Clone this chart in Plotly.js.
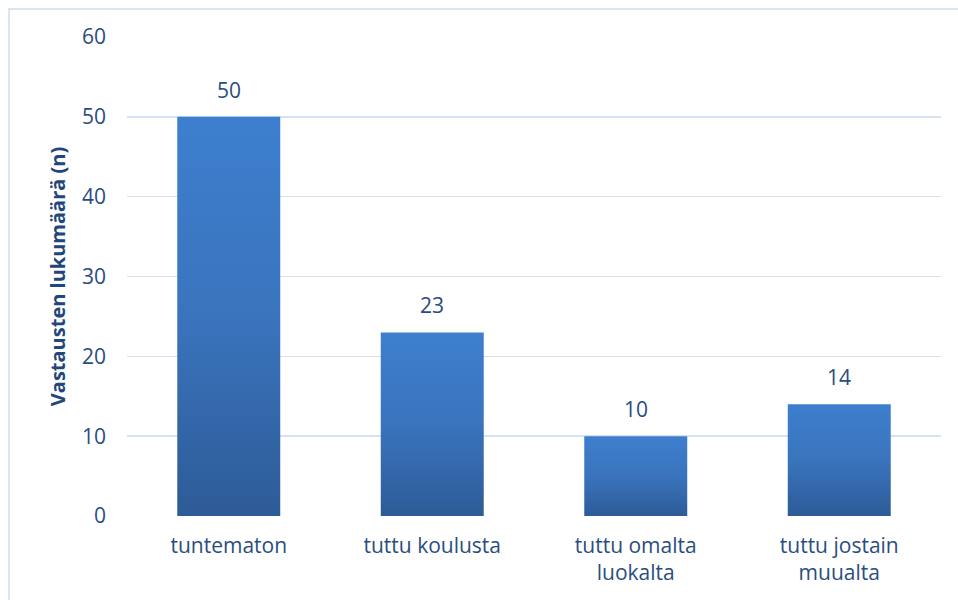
<!DOCTYPE html>
<html>
<head>
<meta charset="utf-8">
<script src="https://cdn.plot.ly/plotly-3.0.1.min.js"></script>
<style>
  html, body { margin: 0; padding: 0; background: #fff; overflow: hidden; }
  #wrap { position: relative; width: 958px; height: 600px; }
  #frame { position: absolute; left: 8px; top: 8px; width: 980px; height: 620px; border: 2px solid #dbe5f2; box-sizing: border-box; pointer-events: none; }
  #chart { position: absolute; left: 0; top: 0; width: 958px; height: 600px; }
</style>
</head>
<body>
<div id="wrap">
  <div id="chart"></div>
  <div id="frame"></div>
</div>
<script>
const categories = ["tuntematon", "tuttu koulusta", "tuttu omalta<br>luokalta", "tuttu jostain<br>muualta"];
const counts = [50, 23, 10, 14];
const yTickValues = [0, 10, 20, 30, 40, 50, 60];
const yTitle = "Vastausten lukumäärä (n)";

const textColor = "#2a4d7f";
const fontFamily = "Open Sans, Noto Sans, sans-serif";
const fs = 21;

const trace = {
  type: "bar",
  x: categories,
  y: counts,
  marker: { color: "#3670bd", line: { width: 0 } },
  hoverinfo: "none"
};

const annotations = categories.map((c, i) => ({
  x: c, y: counts[i], xref: "x", yref: "y",
  text: String(counts[i]), showarrow: false,
  yanchor: "bottom", yshift: 11,
  font: { family: fontFamily, size: fs, color: textColor }
}));

const layout = {
  width: 958, height: 600,
  margin: { l: 127, r: 17, t: 37, b: 84 },
  paper_bgcolor: "#ffffff", plot_bgcolor: "#ffffff",
  bargap: 0.494,
  showlegend: false,
  font: { family: fontFamily, size: fs, color: textColor },
  xaxis: {
    type: "category",
    showgrid: false, zeroline: false, showline: false,
    ticks: "", ticklabelstandoff: 15,
    tickfont: { family: fontFamily, size: fs, color: textColor }
  },
  yaxis: {
    range: [0, 60],
    tickvals: yTickValues,
    showgrid: true, gridcolor: "#d6e2f2", gridwidth: 1.6,
    zeroline: false, showline: false,
    ticks: "", ticklabelstandoff: 20,
    tickfont: { family: fontFamily, size: fs, color: textColor },
    title: { text: yTitle, standoff: 10, font: { family: fontFamily, size: 20, color: "#1f477c", weight: "bold" } }
  },
  annotations: annotations
};

function applyGradient(gd) {
  const svg = gd.querySelector("svg.main-svg");
  if (!svg) return;
  let defs = svg.querySelector("defs");
  if (!defs) { defs = document.createElementNS("http://www.w3.org/2000/svg", "defs"); svg.insertBefore(defs, svg.firstChild); }
  if (!svg.querySelector("#barGrad")) {
    const ns = "http://www.w3.org/2000/svg";
    const g = document.createElementNS(ns, "linearGradient");
    g.setAttribute("id", "barGrad");
    g.setAttribute("x1", "0"); g.setAttribute("y1", "0");
    g.setAttribute("x2", "0"); g.setAttribute("y2", "1");
    [["0", "#3d7fce"], ["0.5", "#3a74bd"], ["1", "#2d5b97"]].forEach(([o, c]) => {
      const s = document.createElementNS(ns, "stop");
      s.setAttribute("offset", o); s.setAttribute("stop-color", c);
      g.appendChild(s);
    });
    defs.appendChild(g);
  }
  gd.querySelectorAll(".bars .point path").forEach(p => { p.style.fill = "url(#barGrad)"; });
}

const gd = document.getElementById("chart");
Plotly.newPlot(gd, [trace], layout, { displayModeBar: false, staticPlot: true }).then(() => {
  applyGradient(gd);
  gd.on && gd.on("plotly_afterplot", () => applyGradient(gd));
});
</script>
</body>
</html>
